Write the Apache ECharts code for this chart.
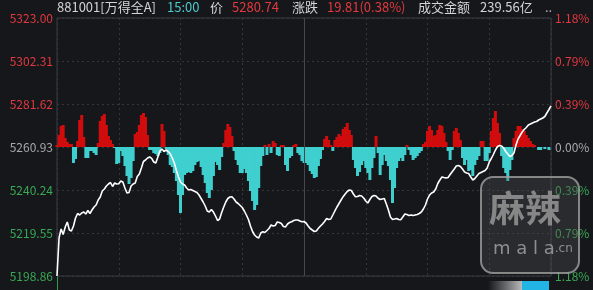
<!DOCTYPE html>
<html><head><meta charset="utf-8">
<script src="https://cdn.jsdelivr.net/npm/echarts@6/dist/echarts.min.js"></script>
<style>html,body{margin:0;padding:0;background:#16171b;}#c{width:593px;height:290px;}</style>
</head><body><div id="c"></div>
<script>
// ---- data ----
const preClose = 5260.93;
const priceTicks = ['5198.86','5219.55','5240.24','5260.93','5281.62','5302.31','5323.00'];
const pctTicks   = ['1.18%','0.79%','0.39%','0.00%','0.39%','0.79%','1.18%'];
const tickTone   = ['g','g','g','n','r','r','r'];
const header = {code:'881001[万得全A]', time:'15:00', priceLabel:'价', price:'5280.74', chgLabel:'涨跌', chg:'19.81(0.38%)', amtLabel:'成交金额', amt:'239.56亿'};

const prices = [
5198.86,5217.24,5221.48,5218.83,5222.44,5224.84,5220.99,5220.51,5222.92,5226.77,
5228.93,5228.21,5229.17,5229.65,5228.69,5230.38,5228.93,5230.62,5232.06,5233.02,
5235.43,5236.87,5239.76,5240.72,5242.17,5243.13,5243.85,5241.92,5243.61,5243.13,
5243.22,5244.57,5244.09,5241.20,5238.80,5239.04,5242.17,5243.13,5243.61,5246.74,
5247.94,5250.83,5253.95,5254.68,5255.64,5256.12,5255.49,5253.71,5253.23,5256.12,
5259.01,5259.97,5258.76,5259.49,5258.76,5257.80,5255.64,5253.23,5249.62,5246.50,
5244.09,5243.13,5242.65,5241.20,5240.24,5240.48,5240.00,5239.52,5239.04,5237.83,
5236.15,5234.47,5232.54,5230.14,5229.65,5230.86,5229.65,5227.73,5225.57,5226.29,
5229.41,5232.06,5234.47,5236.15,5236.87,5236.97,5235.91,5234.47,5233.74,5232.78,
5231.82,5230.14,5228.21,5226.05,5222.92,5220.27,5218.59,5217.63,5217.14,5219.55,
5220.18,5219.79,5220.75,5221.72,5223.40,5222.92,5223.16,5224.84,5224.60,5224.12,
5222.68,5222.44,5223.88,5224.60,5224.99,5225.57,5225.81,5225.81,5225.32,5224.99,
5225.08,5224.36,5222.92,5221.72,5220.99,5220.27,5220.51,5221.81,5222.92,5223.88,
5225.08,5226.53,5226.05,5226.29,5228.21,5230.14,5232.06,5233.74,5235.43,5237.02,
5238.32,5239.52,5240.24,5240.00,5238.32,5237.02,5237.11,5237.59,5237.35,5236.39,
5234.95,5233.99,5235.67,5237.11,5237.59,5237.35,5236.25,5235.67,5235.91,5236.15,
5233.50,5230.62,5227.25,5226.05,5226.29,5226.53,5226.05,5225.90,5227.25,5228.69,
5228.45,5227.97,5228.21,5227.97,5228.21,5228.45,5228.93,5229.65,5231.10,5233.02,
5235.91,5237.83,5238.80,5239.28,5240.72,5243.37,5245.05,5246.50,5246.25,5246.01,
5246.25,5247.70,5249.05,5250.34,5251.79,5252.03,5251.55,5250.34,5248.90,5248.42,
5248.18,5246.50,5245.05,5245.77,5246.98,5248.18,5248.66,5249.14,5249.62,5250.83,
5253.71,5255.40,5257.32,5259.49,5261.17,5261.65,5261.41,5260.45,5258.76,5257.56,
5256.36,5256.84,5258.04,5261.89,5264.78,5266.46,5268.15,5269.35,5270.31,5271.52,
5272.00,5272.48,5272.96,5273.20,5273.92,5274.40,5274.88,5275.61,5277.29,5278.97,
5280.74];

const bars = [
2,12,21,22,9,5,3,3,-16,-12,
6,27,32,10,-11,-11,-4,-4,-6,-8,
4,26,31,33,22,11,7,3,-1,-17,
-16,-4,-9,-19,-29,-37,-31,-14,13,15,
22,32,34,30,12,-3,-3,-6,-7,-9,
-6,23,16,-2,-8,-18,-20,-26,-34,-48,
-66,-48,-28,-26,-25,-26,-24,-18,-15,-14,
-20,-28,-36,-46,-51,-43,-29,-15,-18,-23,
-10,4,17,23,20,11,-4,-13,-18,-26,
-26,-22,-26,-34,-44,-54,-63,-58,-41,-19,
-9,2,-8,3,-6,6,4,-8,-9,2,
2,-18,-24,-11,-9,2,3,-6,-8,-14,
-16,-16,-18,-24,-27,-31,-30,-19,-12,-3,
8,11,7,2,-4,7,10,13,11,18,
20,24,17,12,-13,-21,-29,-25,-18,-14,
-21,-26,-33,-21,-11,11,-6,-28,-18,-8,
-14,-19,-33,-56,-41,-21,-14,-11,-14,-8,
2,-3,-8,-13,-11,-9,-6,-4,3,5,
16,21,17,11,12,17,22,21,14,5,
-4,-13,-3,16,19,14,7,-11,-18,-13,
-24,-23,-29,-18,-13,-9,6,6,-14,-14,
-6,16,29,36,24,14,-9,-21,-26,-34,
-23,-13,9,16,21,21,18,16,12,9,
6,3,2,0,-3,-3,0,-2,0,-3,
0];

// ---- chart ----
const RED = '#e2393f', GREEN = '#38a954', NEUT = '#a9a9a9';
const FONT = '"Noto Sans CJK SC","Noto Sans",sans-serif';
const yMin = Number(priceTicks[0]), yMax = Number(priceTicks[priceTicks.length-1]);
const yStep = Number(priceTicks[1]) - Number(priceTicks[0]);
function tickIdx(v){ return Math.round((v - yMin) / yStep); }
const rich = {
  r:{color:RED, fontSize:12, fontFamily:FONT},
  g:{color:GREEN, fontSize:12, fontFamily:FONT},
  n:{color:NEUT, fontSize:12, fontFamily:FONT}
};
const gridLine = {color:'#34363c', type:[2,3], width:1};

const chart = echarts.init(document.getElementById('c'), null, {renderer:'canvas'});
const hx = (t, x, color) => ({type:'text', left:x, top:1, z:10,
  style:{text:t, fill:color, font:'13px ' + FONT}});

chart.setOption({
  backgroundColor:'#16171b',
  animation:false,
  grid:{left:57, right:42, top:18, bottom:14, show:true, borderColor:'#3b3d43', borderWidth:1},
  xAxis:{type:'value', min:0, max:240, interval:30,
    axisLabel:{show:false}, axisTick:{show:false}, axisLine:{show:false},
    splitLine:{show:true, lineStyle:gridLine}},
  yAxis:[
    {type:'value', min:yMin, max:yMax, interval:yStep, position:'left',
      axisLine:{show:false}, axisTick:{show:false}, splitLine:{show:true, lineStyle:gridLine},
      axisLabel:{margin:4, showMinLabel:true, showMaxLabel:true, rich:rich,
        formatter:function(v){const i=tickIdx(v); return '{'+tickTone[i]+'|'+priceTicks[i]+'}';}}},
    {type:'value', min:yMin, max:yMax, interval:yStep, position:'right',
      axisLine:{show:false}, axisTick:{show:false}, splitLine:{show:false},
      axisLabel:{margin:4, showMinLabel:true, showMaxLabel:true, rich:rich,
        formatter:function(v){const i=tickIdx(v); return '{'+tickTone[i]+'|'+pctTicks[i]+'}';}}},
    {type:'value', min:-129, max:129, show:false}
  ],
  series:[
    {type:'bar', yAxisIndex:2, barWidth:3, barGap:'-100%',
      data:bars.map((v,i)=>[i,v]),
      itemStyle:{color:function(p){return p.value[1] >= 0 ? '#d00c0c' : '#3fcfcf';}},
      markLine:{silent:true, symbol:'none', label:{show:false},
        lineStyle:{color:'#46484e', type:'solid', width:1},
        data:[{xAxis:120}]}},
    {type:'line', yAxisIndex:0, showSymbol:false, symbol:'none',
      data:prices.map((v,i)=>[i,v]),
      lineStyle:{color:'#ffffff', width:1.6}, z:5}
  ],
  graphic:[
    hx(header.code, 57, '#d4d4d4'),
    hx(header.time, 167, '#4ec8c8'),
    hx(header.priceLabel, 210, '#d4d4d4'),
    hx(header.price, 232, RED),
    hx(header.chgLabel, 292, '#d4d4d4'),
    hx(header.chg, 327, RED),
    hx(header.amtLabel, 418, '#d4d4d4'),
    hx(header.amt, 480, '#d4d4d4'),
    hx('..', 545, '#bbbbbb'),
    {type:'line', z:10, shape:{x1:57.5, y1:277, x2:57.5, y2:290}, style:{stroke:'#2f9e4b', lineWidth:1}},
    {type:'rect', z:10, shape:{x:488, y:281, width:34, height:9},
      style:{fill:new echarts.graphic.LinearGradient(0,0,1,0,[{offset:0,color:'rgba(200,200,200,0)'},{offset:1,color:'rgba(215,215,215,0.85)'}])}},
    {type:'rect', z:10, shape:{x:522, y:281, width:27, height:9}, style:{fill:'#23b4e6'}},
    {type:'rect', z:20, shape:{x:481, y:177, width:98, height:96, r:12},
      style:{fill:'rgba(80,80,82,0.35)', stroke:'rgba(160,160,160,0.8)', lineWidth:2}},
    {type:'text', z:21, left:489, top:190,
      style:{text:'麻辣', fill:'rgba(150,150,150,0.85)', font:'bold 36px ' + FONT}},
    {type:'text', z:21, left:493, top:240,
      style:{text:'{a|m a l a}{b|.cn}', rich:{
        a:{fill:'rgba(160,160,160,0.85)', font:'18px "DejaVu Sans",sans-serif'},
        b:{fill:'rgba(160,160,160,0.85)', font:'12px "DejaVu Sans",sans-serif'}}}}
  ]
});
</script>
</body></html>
